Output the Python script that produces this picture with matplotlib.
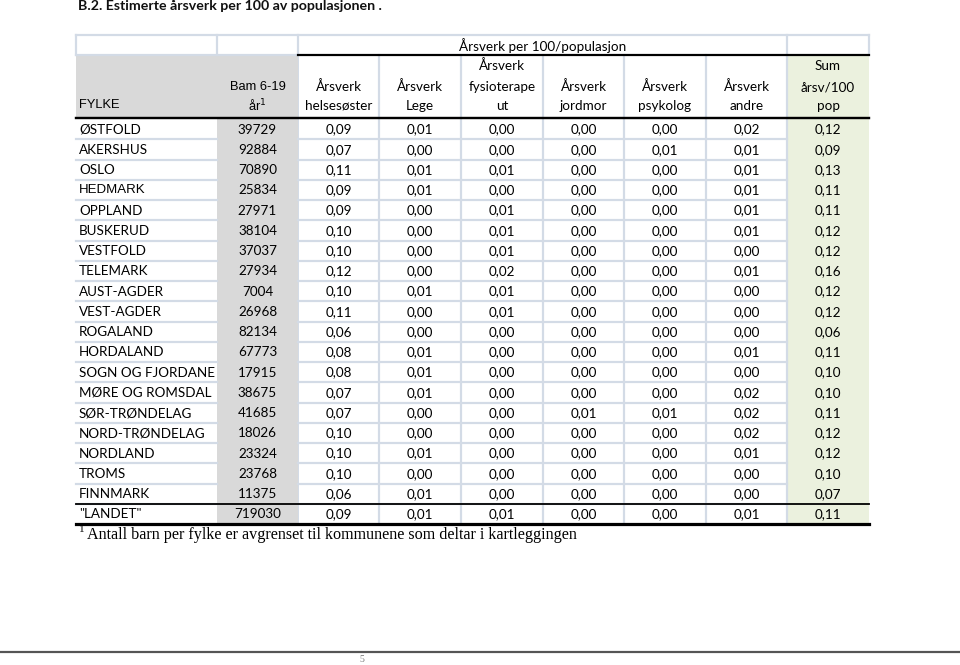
import matplotlib
matplotlib.use("Agg")
import matplotlib.pyplot as plt
from matplotlib.patches import Rectangle

# ---------------- data ----------------
fylker = ["ØSTFOLD", "AKERSHUS", "OSLO", "HEDMARK", "OPPLAND", "BUSKERUD", "VESTFOLD",
          "TELEMARK", "AUST-AGDER", "VEST-AGDER", "ROGALAND", "HORDALAND",
          "SOGN OG FJORDANE", "MØRE OG ROMSDAL", "SØR-TRØNDELAG", "NORD-TRØNDELAG",
          "NORDLAND", "TROMS", "FINNMARK", "\"LANDET\""]
barn = [39729, 92884, 70890, 25834, 27971, 38104, 37037, 27934, 7004, 26968, 82134,
        67773, 17915, 38675, 41685, 18026, 23324, 23768, 11375, 719030]
helsesoster = [0.09, 0.07, 0.11, 0.09, 0.09, 0.10, 0.10, 0.12, 0.10, 0.11, 0.06,
               0.08, 0.08, 0.07, 0.07, 0.10, 0.10, 0.10, 0.06, 0.09]
lege = [0.01, 0.00, 0.01, 0.01, 0.00, 0.00, 0.00, 0.00, 0.01, 0.00, 0.00,
        0.01, 0.01, 0.01, 0.00, 0.00, 0.01, 0.00, 0.01, 0.01]
fysio = [0.00, 0.00, 0.01, 0.00, 0.01, 0.01, 0.01, 0.02, 0.01, 0.01, 0.00,
         0.00, 0.00, 0.00, 0.00, 0.00, 0.00, 0.00, 0.00, 0.01]
jordmor = [0.00, 0.00, 0.00, 0.00, 0.00, 0.00, 0.00, 0.00, 0.00, 0.00, 0.00,
           0.00, 0.00, 0.00, 0.01, 0.00, 0.00, 0.00, 0.00, 0.00]
psykolog = [0.00, 0.01, 0.00, 0.00, 0.00, 0.00, 0.00, 0.00, 0.00, 0.00, 0.00,
            0.00, 0.00, 0.00, 0.01, 0.00, 0.00, 0.00, 0.00, 0.00]
andre = [0.02, 0.01, 0.01, 0.01, 0.01, 0.01, 0.00, 0.01, 0.00, 0.00, 0.00,
         0.01, 0.00, 0.02, 0.02, 0.02, 0.01, 0.00, 0.00, 0.01]
sum_pop = [0.12, 0.09, 0.13, 0.11, 0.11, 0.12, 0.12, 0.16, 0.12, 0.12, 0.06,
           0.11, 0.10, 0.10, 0.11, 0.12, 0.12, 0.10, 0.07, 0.11]

title = "B.2. Estimerte årsverk per 100 av populasjonen ."
group_header = "Årsverk per 100/populasjon"
col_headers = [["FYLKE"], ["Bam 6-19", "år$^{1}$"], ["Årsverk", "helsesøster"],
               ["Årsverk", "Lege"], ["Årsverk", "fysioterape", "ut"],
               ["Årsverk", "jordmor"], ["Årsverk", "psykolog"], ["Årsverk", "andre"],
               ["Sum", "årsv/100", "pop"]]
footnote = "Antall barn per fylke er avgrenset til kommunene som deltar i kartleggingen"

# ---------------- layout ----------------
W, H = 960, 665
fig = plt.figure(figsize=(W / 100, H / 100), dpi=100)
ax = fig.add_axes([0, 0, 1, 1])
ax.set_xlim(0, W)
ax.set_ylim(H, 0)
ax.axis("off")

xs = [76, 217, 298, 379, 461, 543, 624, 706, 787, 869]
top0, top1, hdr_bot = 35, 55, 118
row_h = 20.25
n = len(fylker)
row_top = [hdr_bot + 1 + row_h * i for i in range(n)]
table_bot = hdr_bot + 1 + row_h * n

GRAY = "#d9d9d9"
GREEN = "#ebf1de"
GRID = "#d3dbe6"
CAL = "Lato"
ARI = "Liberation Sans"
FS = 9.7
px = 0.72

def fmt(v):
    return f"{v:.2f}".replace(".", ",")

# backgrounds
ax.add_patch(Rectangle((xs[0], top1), xs[2] - xs[0], hdr_bot - top1, color=GRAY, lw=0, zorder=0))
ax.add_patch(Rectangle((xs[1], hdr_bot), xs[2] - xs[1], table_bot - hdr_bot, color=GRAY, lw=0, zorder=0))
ax.add_patch(Rectangle((xs[8], top1), xs[9] - xs[8], table_bot - top1, color=GREEN, lw=0, zorder=0))

# top header row borders
for x in [xs[0], xs[1], xs[2], xs[8], xs[9]]:
    ax.plot([x, x], [top0, top1], color=GRID, lw=2.2 * px, zorder=1)
ax.plot([xs[0], xs[9]], [top0, top0], color=GRID, lw=2.2 * px, zorder=1)
ax.plot([xs[0], xs[2]], [top1, top1], color=GRID, lw=2.2 * px, zorder=1)

# vertical grid lines in header and body
for x in xs[3:9]:
    ax.plot([x, x], [top1, table_bot], color=GRID, lw=2.2 * px, zorder=1)
ax.plot([xs[2], xs[2]], [top1, table_bot], color=GRID, lw=1.0 * px, zorder=1)

# horizontal row lines
for i in range(1, n):
    y = row_top[i]
    ax.plot([xs[0], xs[1]], [y, y], color=GRID, lw=2.2 * px, zorder=1)
    ax.plot([xs[2], xs[8]], [y, y], color=GRID, lw=2.2 * px, zorder=1)

# black rules
ax.plot([xs[2], xs[9]], [top1, top1], color="black", lw=2.2 * px, zorder=3)
ax.plot([xs[0], xs[9]], [hdr_bot, hdr_bot], color="black", lw=2.4 * px, zorder=3)
ax.plot([xs[0], xs[9]], [row_top[n - 1], row_top[n - 1]], color="black", lw=1.8 * px, zorder=3)
ax.plot([xs[0], xs[9]], [table_bot, table_bot], color="black", lw=3.2 * px, zorder=3)

# title
ax.text(78, 6, title, fontsize=10.2, fontweight="bold", family=CAL, ha="left", va="center", color="#111111")

# group header
ax.text((xs[2] + xs[8]) / 2, 46, group_header, fontsize=FS, family=CAL, ha="center", va="center")

# column headers
line_y = [106, 87, 66]
for j, lines in enumerate(col_headers):
    cx = (xs[j] + xs[j + 1]) / 2
    fam = ARI if j < 2 else CAL
    for k, t in enumerate(reversed(lines)):
        if j == 0:
            ax.text(xs[0] + 3, line_y[k] - 1, t, fontsize=9.3, family=fam, ha="left", va="center")
        else:
            ax.text(cx, line_y[k], t, fontsize=FS if j >= 2 else 9.3, family=fam, ha="center", va="center")

# body
cols = [helsesoster, lege, fysio, jordmor, psykolog, andre, sum_pop]
for i in range(n):
    yc = row_top[i] + row_h / 2 + 0.5
    name_fam = ARI if fylker[i] == "HEDMARK" else CAL
    ax.text(xs[0] + 3, yc, fylker[i], fontsize=FS if name_fam == CAL else 9.5,
            family=name_fam, ha="left", va="center")
    ax.text((xs[1] + xs[2]) / 2, yc, str(barn[i]), fontsize=FS, family=CAL, ha="center", va="center")
    for j, col in enumerate(cols):
        cx = (xs[j + 2] + xs[j + 3]) / 2
        ax.text(cx, yc, fmt(col[i]), fontsize=FS, family=CAL, ha="center", va="center")

# footnote
ax.text(79, 529, "1", fontsize=8, family="Liberation Serif", ha="left", va="center")
ax.text(87, 535, footnote, fontsize=11.6, family="Liberation Serif", ha="left", va="center")

# page footer
ax.plot([0, W], [652, 652], color="#555555", lw=2.2 * px)
ax.text(362, 659, "5", fontsize=7, family="Liberation Serif", ha="center", va="center", color="#777777")

fig.savefig("out.png", dpi=100)
